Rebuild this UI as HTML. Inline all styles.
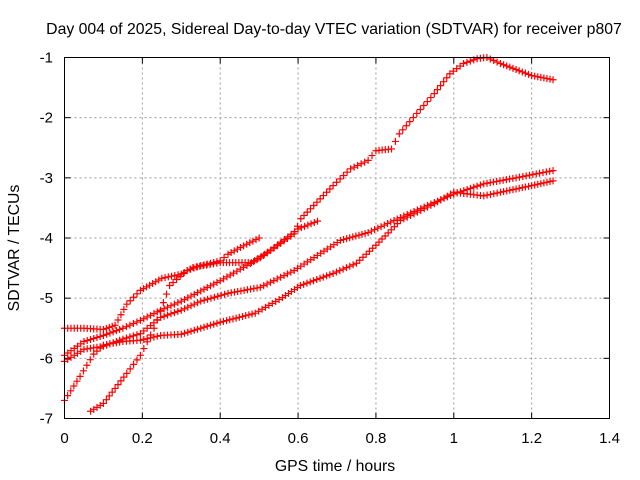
<!DOCTYPE html>
<html><head><meta charset="utf-8"><style>
body{margin:0;background:#fff;}
svg{display:block;font-family:"Liberation Sans",sans-serif;}
</style></head><body>
<svg id="chart" width="640" height="480" viewBox="0 0 640 480">
<text x="334" y="34" font-size="15.8" text-anchor="middle">Day 004 of 2025, Sidereal Day-to-day VTEC variation (SDTVAR) for receiver p807</text>
<g id="grid"></g>
<g id="ticks"></g>
<g id="series"></g>
<rect x="64.5" y="57.5" width="545" height="361" fill="none" stroke="#000" stroke-width="1"/>
<text x="335" y="471" font-size="15.8" text-anchor="middle">GPS time / hours</text>
<text transform="translate(19,248) rotate(-90)" font-size="15.8" text-anchor="middle">SDTVAR / TECUs</text>
</svg>
<script>
const xTicks=[0,0.2,0.4,0.6,0.8,1,1.2,1.4];
const xTickLabels=["0","0.2","0.4","0.6","0.8","1","1.2","1.4"];
const yTicks=[-1,-2,-3,-4,-5,-6,-7];
const yTickLabels=["-1","-2","-3","-4","-5","-6","-7"];
const trackA_x=[0.067,0.1,0.13,0.16,0.195,0.23,0.27,0.315,0.35,0.4,0.42,0.46,0.5];
const trackA_y=[-6.88,-6.75,-6.5,-6.25,-5.95,-5.5,-4.79,-4.54,-4.46,-4.38,-4.27,-4.13,-4.0];
const trackB_x=[0,0.05,0.1,0.13,0.16,0.195,0.25,0.3,0.33,0.4,0.48,0.53,0.6,0.65];
const trackB_y=[-5.5,-5.5,-5.52,-5.45,-5.1,-4.87,-4.67,-4.6,-4.49,-4.41,-4.41,-4.2,-3.85,-3.72];
const trackC_x=[0,0.05,0.1,0.15,0.195,0.247,0.3,0.4,0.503,0.59,0.607,0.69,0.735,0.78,0.8,0.84,0.86,0.905,0.95,0.99,1.025,1.06,1.085,1.12,1.16,1.2,1.255];
const trackC_y=[-5.95,-5.72,-5.62,-5.5,-5.37,-5.2,-5.05,-4.71,-4.33,-3.93,-3.68,-3.13,-2.85,-2.71,-2.55,-2.52,-2.27,-1.93,-1.6,-1.27,-1.1,-1.02,-1.0,-1.1,-1.2,-1.3,-1.37];
const trackD_x=[0,0.05,0.1,0.15,0.195,0.247,0.3,0.35,0.42,0.503,0.59,0.709,0.78,0.863,0.95,1.0,1.077,1.16,1.255];
const trackD_y=[-6.05,-5.85,-5.8,-5.68,-5.59,-5.32,-5.2,-5.05,-4.92,-4.82,-4.54,-4.04,-3.91,-3.66,-3.41,-3.27,-3.1,-3.0,-2.88];
const trackE_x=[0,0.04,0.075,0.1,0.15,0.195,0.247,0.3,0.35,0.4,0.49,0.56,0.606,0.69,0.75,0.8,0.863,0.95,1.0,1.077,1.12,1.2,1.255];
const trackE_y=[-6.7,-6.3,-5.93,-5.78,-5.72,-5.7,-5.62,-5.6,-5.5,-5.4,-5.25,-4.99,-4.79,-4.59,-4.42,-4.12,-3.71,-3.43,-3.24,-3.3,-3.24,-3.13,-3.05];

const X0=64.5,X1=609.5,Y0=57.5,Y1=418.5;
const xs=v=>X0+(v-0)/(1.4-0)*(X1-X0);
const ys=v=>Y0+(-1-v)/6*(Y1-Y0);
const NS="http://www.w3.org/2000/svg";
function mk(tag,attrs,parent){const e=document.createElementNS(NS,tag);for(const k in attrs)e.setAttribute(k,attrs[k]);parent.appendChild(e);return e;}
const grid=document.getElementById('grid'),ticks=document.getElementById('ticks'),series=document.getElementById('series');
xTicks.forEach((t,i)=>{
  const x=xs(t);
  if(i>0&&i<xTicks.length-1){const g=mk('line',{x1:x,y1:Y0,x2:x,y2:Y1,stroke:'#999','stroke-dasharray':'2,3'},grid);
  
  }
  mk('line',{x1:x,y1:Y1,x2:x,y2:Y1-6,stroke:'#000'},ticks);
  mk('line',{x1:x,y1:Y0,x2:x,y2:Y0+6,stroke:'#000'},ticks);
  const l=mk('text',{x:x,y:443,'font-size':15,'text-anchor':'middle'},ticks);l.textContent=xTickLabels[i];
  
  
});
yTicks.forEach((t,i)=>{
  const y=ys(t);
  if(i>0&&i<yTicks.length-1){const g=mk('line',{x1:X0,y1:y,x2:X1,y2:y,stroke:'#999','stroke-dasharray':'2,3'},grid);
  
  }
  mk('line',{x1:X0,y1:y,x2:X0+6,y2:y,stroke:'#000'},ticks);
  mk('line',{x1:X1,y1:y,x2:X1-6,y2:y,stroke:'#000'},ticks);
  const l=mk('text',{x:53,y:y+5,'font-size':15,'text-anchor':'end'},ticks);l.textContent=yTickLabels[i];
  
  
});
const tracks=[[trackA_x,trackA_y,'track-a'],[trackB_x,trackB_y,'track-b'],[trackC_x,trackC_y,'track-c'],[trackD_x,trackD_y,'track-d'],[trackE_x,trackE_y,'track-e']];
const step=0.0083;
tracks.forEach(([tx,ty,name])=>{
  let d='';
  for(let i=0;i<tx.length-1;i++){
    const n=Math.max(1,Math.round((tx[i+1]-tx[i])/step));
    for(let k=0;k<n;k++){
      const f=k/n;const vx=tx[i]+f*(tx[i+1]-tx[i]),vy=ty[i]+f*(ty[i+1]-ty[i]);
      const px=xs(vx),py=ys(vy);
      d+=`M${px-3.5},${py}h7M${px},${py-3.5}v7`;
    }
  }
  const L=tx.length-1,px=xs(tx[L]),py=ys(ty[L]);
  d+=`M${px-3.5},${py}h7M${px},${py-3.5}v7`;
  const p=mk('path',{d:d,stroke:'#f00','stroke-width':1.2,fill:'none'},series);
  
  
});
</script>
</body></html>
